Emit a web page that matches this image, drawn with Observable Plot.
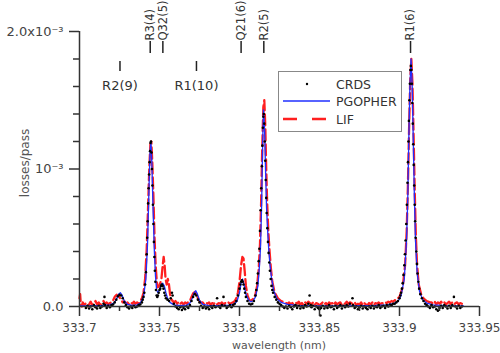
<!DOCTYPE html>
<html><head><meta charset="utf-8">
<script src="https://cdn.jsdelivr.net/npm/d3@7"></script>
<script src="https://cdn.jsdelivr.net/npm/@observablehq/plot@0.6"></script>
<style>body{margin:0;background:#fff}#c{width:500px;height:353px}</style>
</head><body><div id="c"></div>
<script>
// values in units of 1e-3 losses/pass
const crds = [
[333.704,-0.01],[333.705,0.005],[333.706,-0.015],[333.707,0.0],[333.708,-0.02],[333.709,0.01],[333.710,-0.005],[333.711,-0.015],[333.712,0.005],[333.713,-0.01],[333.714,0.0],[333.715,0.02],[333.7156,0.07],[333.716,0.01],[333.717,-0.01],[333.718,0.005],[333.719,-0.005],[333.720,0.01],[333.721,0.015],[333.722,0.03],[333.723,0.05],[333.724,0.075],[333.725,0.085],[333.726,0.08],[333.727,0.06],[333.728,0.03],[333.729,0.01],[333.730,-0.005],[333.731,-0.015],[333.732,0.0],[333.733,-0.01],[333.734,0.005],[333.735,-0.005],[333.736,0.0],[333.737,0.01],[333.738,0.015],[333.739,0.03],[333.7395,0.05],[333.740,0.07],[333.7405,0.1],[333.741,0.16],[333.7415,0.25],[333.742,0.38],[333.7423,0.5],[333.7426,0.62],[333.7429,0.75],[333.7432,0.86],[333.7435,0.96],[333.7438,1.05],[333.7441,1.13],[333.7444,1.19],[333.7447,1.2],[333.745,1.12],[333.7453,1.0],[333.7456,0.88],[333.7459,0.74],[333.7462,0.6],[333.7465,0.47],[333.7468,0.36],[333.7471,0.26],[333.7474,0.18],[333.7478,0.12],[333.7482,0.08],[333.7486,0.07],[333.749,0.08],[333.7495,0.1],[333.750,0.12],[333.7505,0.13],[333.751,0.15],[333.7515,0.16],[333.752,0.15],[333.7525,0.13],[333.753,0.1],[333.7535,0.08],[333.754,0.06],[333.755,0.05],[333.756,0.04],[333.757,0.06],[333.7578,0.1],[333.7582,0.08],[333.759,0.02],[333.760,0.0],[333.761,-0.01],[333.762,-0.02],[333.763,-0.005],[333.764,-0.025],[333.765,-0.01],[333.766,-0.02],[333.767,0.0],[333.768,-0.01],[333.769,0.01],[333.770,0.04],[333.771,0.07],[333.772,0.09],[333.773,0.08],[333.774,0.05],[333.775,0.03],[333.776,0.005],[333.777,-0.01],[333.778,0.0],[333.779,-0.015],[333.780,-0.005],[333.781,-0.02],[333.782,0.0],[333.783,-0.01],[333.784,0.005],[333.785,-0.005],[333.786,0.06],[333.787,0.0],[333.788,-0.01],[333.789,0.01],[333.790,0.07],[333.791,0.005],[333.792,-0.01],[333.793,0.0],[333.794,0.01],[333.795,-0.005],[333.796,0.01],[333.797,0.02],[333.798,0.04],[333.799,0.08],[333.800,0.13],[333.8005,0.16],[333.801,0.18],[333.8015,0.19],[333.802,0.18],[333.8025,0.16],[333.803,0.13],[333.8035,0.1],[333.804,0.07],[333.805,0.04],[333.806,0.02],[333.807,0.015],[333.808,0.02],[333.809,0.04],[333.810,0.08],[333.8105,0.12],[333.811,0.17],[333.8115,0.24],[333.812,0.33],[333.8124,0.42],[333.8128,0.55],[333.8132,0.7],[333.8136,0.86],[333.814,1.02],[333.8143,1.17],[333.8146,1.3],[333.8149,1.38],[333.8152,1.4],[333.8155,1.33],[333.8158,1.2],[333.8161,1.06],[333.8164,0.92],[333.8167,0.79],[333.817,0.68],[333.8174,0.57],[333.8178,0.47],[333.8182,0.39],[333.8186,0.32],[333.819,0.26],[333.8195,0.2],[333.820,0.15],[333.8205,0.12],[333.821,0.1],[333.822,0.07],[333.823,0.05],[333.824,0.03],[333.825,0.02],[333.826,0.01],[333.827,0.0],
[333.828,-0.01],[333.829,0.0],[333.830,-0.015],[333.831,0.005],[333.832,-0.005],[333.833,-0.02],[333.834,0.0],[333.835,0.01],[333.836,-0.01],[333.837,0.005],[333.838,-0.015],[333.839,0.0],[333.840,-0.01],[333.841,0.01],[333.842,0.0],[333.843,0.02],[333.8438,0.08],[333.8445,0.01],[333.845,-0.005],[333.846,0.005],[333.847,-0.02],[333.848,0.0],[333.849,-0.01],[333.850,-0.02],[333.8506,-0.065],[333.851,-0.01],[333.852,0.005],[333.853,-0.015],[333.854,0.0],[333.855,-0.01],[333.856,0.01],[333.857,-0.005],[333.858,0.0],[333.859,-0.02],[333.860,0.005],[333.861,-0.01],[333.862,0.0],[333.863,0.01],[333.864,-0.015],[333.865,0.005],[333.866,-0.005],[333.867,0.01],[333.868,0.0],[333.869,0.02],[333.8706,0.06],[333.871,0.01],[333.872,-0.01],[333.873,0.0],[333.874,-0.02],[333.875,-0.005],[333.876,0.005],[333.877,-0.015],[333.878,0.0],[333.879,-0.01],[333.880,-0.02],[333.881,0.0],[333.882,-0.01],[333.883,0.005],[333.884,-0.015],[333.885,0.0],[333.886,-0.005],[333.887,0.01],[333.888,-0.01],[333.889,0.0],[333.890,0.005],[333.891,-0.01],[333.892,0.01],[333.893,0.0],[333.894,0.015],[333.895,0.01],[333.896,0.02],
[333.897,0.02],[333.898,0.03],[333.899,0.04],[333.900,0.06],[333.9005,0.08],[333.901,0.1],[333.9015,0.13],[333.902,0.17],[333.9025,0.23],[333.903,0.3],[333.9034,0.38],[333.9038,0.48],[333.9042,0.6],[333.9046,0.74],[333.905,0.9],[333.9053,1.05],[333.9056,1.2],[333.9059,1.35],[333.9062,1.5],[333.9065,1.62],[333.9068,1.72],[333.9071,1.75],[333.9074,1.72],[333.9077,1.62],[333.908,1.48],[333.9083,1.33],[333.9086,1.18],[333.9089,1.03],[333.9092,0.88],[333.9095,0.74],[333.9098,0.62],[333.9101,0.5],[333.9105,0.4],[333.9109,0.31],[333.9113,0.24],[333.9118,0.18],[333.9123,0.13],[333.913,0.09],[333.914,0.06],[333.915,0.04],[333.916,0.02],
[333.917,0.01],[333.918,0.0],[333.919,-0.01],[333.920,0.01],[333.921,-0.005],[333.922,0.0],[333.923,-0.02],[333.924,-0.03],[333.925,-0.01],[333.926,0.005],[333.927,-0.01],[333.928,0.01],[333.929,0.0],[333.930,-0.015],[333.931,0.005],[333.932,-0.01],[333.933,0.01],[333.934,0.07],[333.935,0.0],[333.936,-0.015],[333.937,0.005],[333.938,-0.01],[333.939,0.0]
];

const pgopher = [
[333.700,0.005],[333.705,0.005],[333.710,0.006],[333.715,0.008],[333.719,0.012],[333.7215,0.025],[333.723,0.05],[333.7245,0.09],[333.7255,0.1],[333.7265,0.085],[333.728,0.04],[333.730,0.015],[333.733,0.008],[333.736,0.012],
[333.738,0.025],[333.740,0.07],[333.7415,0.2],[333.7425,0.45],[333.7433,0.8],[333.7440,1.1],[333.7446,1.2],[333.7452,1.05],[333.7460,0.7],[333.7468,0.4],[333.7475,0.22],[333.7482,0.12],[333.7490,0.1],[333.7500,0.12],[333.7510,0.16],[333.7520,0.17],[333.7530,0.15],[333.7540,0.1],[333.7550,0.06],[333.7565,0.03],[333.759,0.012],[333.763,0.007],[333.767,0.01],
[333.769,0.025],[333.7705,0.06],[333.7717,0.1],[333.7727,0.115],[333.7737,0.09],[333.775,0.045],[333.777,0.015],[333.781,0.006],[333.786,0.006],[333.790,0.008],[333.794,0.01],[333.797,0.02],
[333.7985,0.04],[333.800,0.1],[333.801,0.17],[333.8019,0.2],[333.803,0.15],[333.804,0.09],[333.8055,0.05],[333.807,0.035],[333.8085,0.04],[333.810,0.07],[333.8115,0.15],[333.8125,0.3],[333.8131,0.42],[333.8138,0.72],[333.8145,1.2],[333.8150,1.43],[333.8157,1.28],[333.8163,0.98],[333.8169,0.72],[333.8176,0.55],[333.8183,0.41],[333.819,0.31],[333.820,0.21],[333.8215,0.11],[333.8235,0.055],[333.826,0.03],[333.830,0.015],[333.836,0.008],[333.845,0.005],[333.855,0.005],[333.865,0.005],[333.875,0.006],[333.885,0.008],[333.892,0.012],[333.896,0.02],
[333.899,0.035],[333.901,0.08],[333.903,0.2],[333.9044,0.48],[333.9052,0.8],[333.9058,1.21],[333.9065,1.6],[333.9072,1.8],[333.9079,1.62],[333.9086,1.21],[333.9093,0.8],[333.9100,0.48],[333.9110,0.25],[333.9125,0.11],[333.9145,0.05],[333.917,0.025],[333.921,0.012],[333.928,0.007],[333.935,0.005],[333.940,0.005]
];

const lif = [
[333.7000,0.06],[333.7004,0.09],[333.7008,0.02],[333.7015,0.0],[333.702,0.03],[333.703,0.01],[333.704,0.025],[333.705,0.0],[333.706,0.015],[333.707,0.035],[333.708,0.01],[333.709,0.02],[333.710,0.04],[333.711,0.015],[333.712,0.03],[333.713,0.01],[333.714,0.025],[333.715,0.04],[333.716,0.02],[333.717,0.03],[333.718,0.015],[333.719,0.025],[333.720,0.03],[333.721,0.045],[333.722,0.07],[333.7232,0.085],[333.7245,0.075],[333.726,0.05],[333.727,0.03],[333.728,0.04],[333.729,0.02],[333.730,0.03],[333.731,0.015],[333.732,0.03],[333.733,0.02],[333.734,0.035],[333.735,0.02],[333.736,0.03],[333.737,0.02],[333.738,0.04],[333.739,0.06],
[333.740,0.1],[333.741,0.2],[333.742,0.42],[333.7428,0.7],[333.7436,1.0],[333.7443,1.18],[333.7449,1.2],[333.7455,1.05],[333.7462,0.8],[333.7469,0.5],[333.7476,0.3],[333.7483,0.18],[333.749,0.14],[333.750,0.15],[333.7512,0.2],[333.752,0.3],[333.7526,0.36],[333.7532,0.3],[333.7538,0.2],[333.7545,0.16],[333.7552,0.2],[333.7558,0.17],[333.7566,0.09],[333.7575,0.05],[333.759,0.03],[333.760,0.04],[333.761,0.02],[333.762,0.035],[333.763,0.02],[333.764,0.03],[333.765,0.015],[333.766,0.03],[333.767,0.02],[333.768,0.035],
[333.769,0.04],[333.770,0.07],[333.771,0.095],[333.772,0.105],[333.773,0.09],[333.774,0.06],[333.775,0.04],[333.776,0.025],[333.777,0.03],[333.778,0.015],[333.779,0.03],[333.780,0.02],[333.781,0.03],[333.782,0.01],[333.783,0.025],[333.784,0.02],[333.785,0.03],[333.786,0.015],[333.787,0.025],[333.788,0.02],[333.789,0.03],[333.790,0.015],[333.791,0.025],[333.792,0.02],[333.793,0.03],[333.794,0.02],[333.795,0.025],[333.796,0.03],[333.797,0.04],[333.798,0.06],
[333.799,0.1],[333.800,0.18],[333.801,0.3],[333.8018,0.36],[333.8025,0.35],[333.8033,0.25],[333.804,0.15],[333.805,0.08],[333.806,0.05],[333.807,0.04],[333.808,0.05],[333.809,0.06],[333.810,0.09],[333.811,0.15],[333.812,0.27],[333.8128,0.45],[333.8135,0.75],[333.8142,1.15],[333.8149,1.45],[333.8155,1.5],[333.8161,1.32],[333.8167,1.0],[333.8173,0.75],[333.818,0.55],[333.8188,0.4],[333.8196,0.28],[333.8205,0.18],[333.822,0.1],[333.824,0.06],[333.826,0.04],[333.828,0.03],
[333.830,0.02],[333.831,0.03],[333.832,0.015],[333.833,0.025],[333.834,0.01],[333.835,0.03],[333.836,0.02],[333.837,0.035],[333.838,0.015],[333.839,0.025],[333.840,0.01],[333.841,0.03],[333.842,0.02],[333.843,0.035],[333.844,0.025],[333.845,0.015],[333.846,0.03],[333.847,0.01],[333.848,0.025],[333.849,0.02],[333.850,0.005],[333.851,0.02],[333.852,0.03],[333.853,0.015],[333.854,0.025],[333.855,0.01],[333.856,0.03],[333.857,0.02],[333.858,0.025],[333.859,0.01],[333.860,0.03],[333.861,0.015],[333.862,0.025],[333.863,0.03],[333.864,0.01],[333.865,0.025],[333.866,0.02],[333.867,0.035],[333.868,0.02],[333.869,0.03],[333.870,0.025],[333.871,0.015],[333.872,0.03],[333.873,0.01],[333.874,0.02],[333.875,0.015],[333.876,0.03],[333.877,0.01],[333.878,0.025],[333.879,0.015],[333.880,0.01],[333.881,0.025],[333.882,0.015],[333.883,0.03],[333.884,0.01],[333.885,0.025],[333.886,0.02],[333.887,0.03],[333.888,0.015],[333.889,0.025],[333.890,0.02],[333.891,0.03],[333.892,0.025],[333.893,0.035],[333.894,0.03],[333.895,0.04],[333.896,0.035],[333.897,0.045],
[333.898,0.05],[333.900,0.07],[333.902,0.14],[333.9035,0.3],[333.9045,0.55],[333.9053,0.9],[333.906,1.3],[333.9067,1.65],[333.9074,1.8],[333.9081,1.62],[333.9088,1.25],[333.9095,0.85],[333.9102,0.52],[333.911,0.3],[333.912,0.16],[333.9135,0.09],[333.915,0.06],[333.917,0.04],[333.919,0.03],
[333.920,0.03],[333.921,0.02],[333.922,0.035],[333.923,0.015],[333.924,0.03],[333.925,0.02],[333.926,0.035],[333.927,0.02],[333.928,0.03],[333.929,0.015],[333.930,0.025],[333.931,0.035],[333.932,0.02],[333.933,0.03],[333.934,0.015],[333.935,0.025],[333.936,0.03],[333.937,0.015],[333.938,0.025],[333.939,0.02]
];

const xMajorTicks = [333.7, 333.75, 333.8, 333.85, 333.9, 333.95];
const xTickLabels = ["333.7", "333.75", "333.8", "333.85", "333.9", "333.95"];
const xMinorTicks = [333.725, 333.775, 333.825, 333.875, 333.925];
const yMajorTicks = [0, 1e-3, 2e-3];
const yTickLabels = ["0.0", "10\u207B\u00B3", "2.0x10\u207B\u00B3"];
const yMinorTicks = [0.2e-3, 0.4e-3, 0.6e-3, 0.8e-3, 1.2e-3, 1.4e-3, 1.6e-3, 1.8e-3];
const rotLabels = ["R3(4)", "Q32(5)", "Q21(6)", "R2(5)", "R1(6)"];
const rotLabelWl = [333.7442, 333.7521, 333.8010, 333.8152, 333.9069];
const flatLabels = ["R2(9)", "R1(10)"];
const flatLabelWl = [333.7253, 333.7731];
const legendNames = ["CRDS", "PGOPHER", "LIF"];

const W = 500, H = 353, MT = 31, MB = 47, ML = 79, MR = 21;
const pxToY = px => (H - MB - px) / (H - MT - MB) * 2e-3;
const SC = 1e-3;
const FONT = "DejaVu Sans, Verdana, sans-serif";

const rotData = rotLabels.map((t, i) => ({t, x: rotLabelWl[i]}));
const flatData = flatLabels.map((t, i) => ({t, x: flatLabelWl[i]}));

const svg = Plot.plot({
  width: W, height: H, marginTop: MT, marginBottom: MB, marginLeft: ML, marginRight: MR,
  x: {domain: [333.7, 333.95]},
  y: {domain: [0, 2e-3]},
  style: {fontFamily: FONT, fontSize: "13px", color: "#333", background: "white", overflow: "visible"},
  marks: [
    Plot.line(lif, {x: d => d[0], y: d => d[1] * SC, stroke: "#ff1f1f", strokeWidth: 2.3, strokeDasharray: "11,4"}),
    Plot.line(pgopher, {x: d => d[0], y: d => d[1] * SC, stroke: "#1f2fff", strokeWidth: 1.3}),
    Plot.dot(crds, {x: d => d[0], y: d => d[1] * SC, r: 1.3, fill: "#000", stroke: null}),
    Plot.ruleY([0], {stroke: "#333", strokeWidth: 1.5}),
    Plot.ruleX([333.7], {stroke: "#333", strokeWidth: 1.5}),
    Plot.axisX({ticks: xMajorTicks, tickSize: 10, tickPadding: 7, tickFormat: d => xTickLabels[xMajorTicks.indexOf(d)], label: null, stroke: "#333", strokeWidth: 1.5, fill: "#444", fontSize: 12}),
    Plot.axisX({ticks: xMinorTicks, tickSize: 5, tickFormat: () => "", label: null, stroke: "#333", strokeWidth: 1.5}),
    Plot.axisY({ticks: yMajorTicks, tickSize: 10, tickPadding: 6, tickFormat: d => yTickLabels[yMajorTicks.indexOf(d)], label: null, stroke: "#333", strokeWidth: 1.5, fill: "#444", fontSize: 13}),
    Plot.axisY({ticks: yMinorTicks, tickSize: 6, tickFormat: () => "", label: null, stroke: "#333", strokeWidth: 1.5}),
    Plot.ruleX(rotData, {x: "x", y1: pxToY(53), y2: pxToY(41), stroke: "#222", strokeWidth: 1.5}),
    Plot.text(rotData, {x: "x", y: pxToY(40), text: "t", rotate: -90, textAnchor: "start", fontSize: 11.5, fill: "#333"}),
    Plot.ruleX(flatData, {x: "x", y1: pxToY(71), y2: pxToY(61), stroke: "#222", strokeWidth: 1.5}),
    Plot.text(flatData, {x: "x", y: pxToY(85), text: "t", fontSize: 13, fill: "#333"})
  ]
});

const s = d3.select(svg);
s.append("text").attr("transform", "translate(25,163) rotate(-90)").attr("text-anchor", "middle")
  .attr("dominant-baseline", "central").attr("font-size", 12).attr("fill", "#555").attr("font-family", FONT).text("losses/pass");
s.append("text").attr("x", 279).attr("y", 345).attr("text-anchor", "middle")
  .attr("dominant-baseline", "central").attr("font-size", 11).attr("fill", "#555").attr("font-family", FONT).text("wavelength (nm)");

const lg = s.append("g").attr("font-family", FONT).attr("font-size", 12.5).attr("fill", "#333").attr("text-anchor", "start");
lg.append("rect").attr("x", 278.5).attr("y", 71.5).attr("width", 123).attr("height", 60).attr("fill", "white").attr("stroke", "#888").attr("stroke-width", 1);
lg.append("circle").attr("cx", 307).attr("cy", 84).attr("r", 1.2).attr("fill", "#000");
lg.append("line").attr("x1", 283).attr("x2", 330).attr("y1", 101).attr("y2", 101).attr("stroke", "#1f2fff").attr("stroke-width", 1.3);
lg.append("line").attr("x1", 283).attr("x2", 329).attr("y1", 119).attr("y2", 119).attr("stroke", "#ff1f1f").attr("stroke-width", 2.3).attr("stroke-dasharray", "14,15");
[84, 101, 119].forEach((y, i) => {
  lg.append("text").attr("x", 336).attr("y", y).attr("text-anchor", "start").attr("dominant-baseline", "central").text(legendNames[i]);
});

document.getElementById("c").appendChild(svg);
</script>
</body></html>
